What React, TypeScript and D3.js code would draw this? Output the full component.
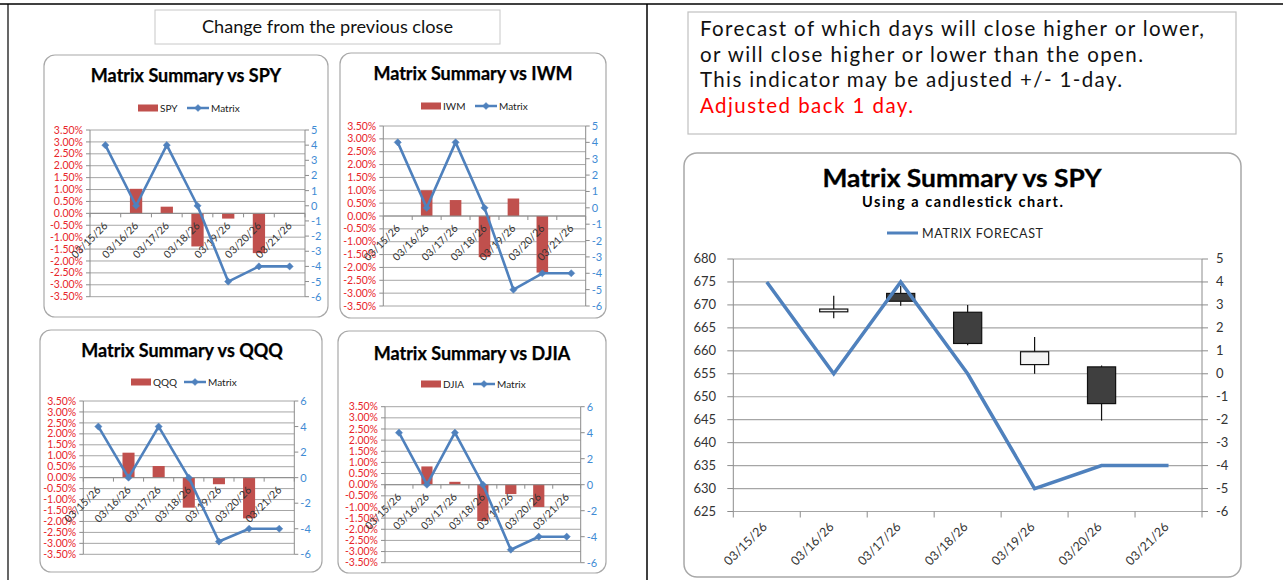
import React from "react";
import * as d3 from "d3";

// ---------- DATA ----------
const dates = ["03/15/26", "03/16/26", "03/17/26", "03/18/26", "03/19/26", "03/20/26", "03/21/26"];
const matrixForecast = [4, 0, 4, 0, -5, -4, -4];

const spyChange: (number | null)[] = [null, 1.03, 0.28, -1.39, -0.22, -1.67, null];
const iwmChange: (number | null)[] = [null, 1.0, 0.62, -1.6, 0.68, -2.2, null];
const qqqChange: (number | null)[] = [null, 1.14, 0.53, -1.37, -0.3, -1.86, null];
const djiaChange: (number | null)[] = [null, 0.82, 0.13, -1.63, -0.42, -1.0, null];

const pctTicks = [3.5, 3.0, 2.5, 2.0, 1.5, 1.0, 0.5, 0.0, -0.5, -1.0, -1.5, -2.0, -2.5, -3.0, -3.5];
const matrixTicksUnit = [5, 4, 3, 2, 1, 0, -1, -2, -3, -4, -5, -6];
const matrixTicksTwo = [6, 4, 2, 0, -2, -4, -6];

const candleOpen: (number | null)[] = [null, 668.5, 672.5, 668.4, 657.0, 656.5, null];
const candleHigh: (number | null)[] = [null, 672.0, 674.2, 670.0, 663.0, 656.8, null];
const candleLow: (number | null)[] = [null, 667.1, 669.8, 661.2, 655.0, 644.8, null];
const candleClose: (number | null)[] = [null, 669.1, 670.8, 661.6, 659.8, 648.5, null];
const priceTicks = [680, 675, 670, 665, 660, 655, 650, 645, 640, 635, 630, 625];

const noteLines = [
  "Forecast of which days will close higher or lower,",
  "or will close higher or lower than the open.",
  "This indicator may be adjusted +/- 1-day.",
];
const noteRed = "Adjusted back 1 day.";

// ---------- STYLE / LAYOUT ----------
const FONT = "Lato, 'Open Sans', sans-serif";
const BAR = "#c0504d";
const LINE = "#4f81bd";
const GRID = "#a6a6a6";
const AXIS = "#8c8c8c";
const RED_LABEL = "#e8262b";
const BLUE_LABEL = "#3f8bd4";
const noteWidths = [504, 443, 422];

type PanelCfg = {
  name: string;
  values: (number | null)[];
  frame: { x: number; y: number; w: number; h: number };
  plot: { l: number; r: number; t: number; b: number };
  titleY: number;
  titleX: number;
  legendY: number;
  swatchX: number;
  lineX: number;
  rightDomain: [number, number];
  rightTicks: number[];
};

const panels: PanelCfg[] = [
  {
    name: "SPY",
    values: spyChange,
    frame: { x: 44, y: 55, w: 284, h: 262 },
    plot: { l: 90, r: 305, t: 130, b: 296.7 },
    titleX: 186,
    titleY: 82,
    legendY: 108,
    swatchX: 138,
    lineX: 187,
    rightDomain: [-6, 5],
    rightTicks: matrixTicksUnit,
  },
  {
    name: "IWM",
    values: iwmChange,
    frame: { x: 340, y: 53, w: 266, h: 265 },
    plot: { l: 383.3, r: 585.7, t: 126, b: 306 },
    titleX: 473,
    titleY: 80,
    legendY: 106,
    swatchX: 421,
    lineX: 475,
    rightDomain: [-6, 5],
    rightTicks: matrixTicksUnit,
  },
  {
    name: "QQQ",
    values: qqqChange,
    frame: { x: 40, y: 330, w: 282, h: 242 },
    plot: { l: 83.3, r: 294.3, t: 401, b: 554.3 },
    titleX: 182,
    titleY: 357,
    legendY: 382,
    swatchX: 131,
    lineX: 184,
    rightDomain: [-6, 6],
    rightTicks: matrixTicksTwo,
  },
  {
    name: "DJIA",
    values: djiaChange,
    frame: { x: 338, y: 331, w: 268, h: 242 },
    plot: { l: 385, r: 580.7, t: 406.7, b: 562.7 },
    titleX: 472,
    titleY: 360,
    legendY: 384,
    swatchX: 421,
    lineX: 473,
    rightDomain: [-6, 6],
    rightTicks: matrixTicksTwo,
  },
];

const fmtPct = (v: number) => `${v.toFixed(2)}%`;

function Diamond({ x, y, r }: { x: number; y: number; r: number }) {
  return (
    <path
      d={`M${x},${y - r}L${x + r},${y}L${x},${y + r}L${x - r},${y}Z`}
      fill={LINE}
      stroke={LINE}
      strokeWidth={0.5}
    />
  );
}

function SmallPanel({ cfg }: { cfg: PanelCfg }) {
  const { plot, frame } = cfg;
  const x = d3.scaleBand<string>().domain(dates).range([plot.l, plot.r]).paddingInner(0).paddingOuter(0);
  const yL = d3.scaleLinear().domain([-3.5, 3.5]).range([plot.b, plot.t]);
  const yR = d3.scaleLinear().domain(cfg.rightDomain).range([plot.b, plot.t]);
  const bw = x.bandwidth() * 0.4;
  const cx = (d: string) => (x(d) as number) + x.bandwidth() / 2;
  const y0 = yL(0);
  const line = d3
    .line<number>()
    .x((_, i) => cx(dates[i]))
    .y((v) => yR(v));
  const boundaries = dates.map((d) => x(d) as number).concat([plot.r]);

  return (
    <g>
      <rect x={frame.x} y={frame.y} width={frame.w} height={frame.h} rx={11} fill="#fff" stroke="#a8a8a8" strokeWidth={1.2} />
      <text x={cfg.titleX} y={cfg.titleY} textAnchor="middle" fontFamily={FONT} fontWeight={700} fontSize={18} fill="#000" stroke="#000" strokeWidth={0.25}>
        {`Matrix Summary vs ${cfg.name}`}
      </text>
      {/* legend */}
      <rect x={cfg.swatchX} y={cfg.legendY - 3.5} width={20} height={7} fill={BAR} />
      <text x={cfg.swatchX + 22} y={cfg.legendY + 3.5} fontFamily={FONT} fontSize={10} fill="#222">
        {cfg.name}
      </text>
      <line x1={cfg.lineX} x2={cfg.lineX + 22} y1={cfg.legendY} y2={cfg.legendY} stroke={LINE} strokeWidth={2.5} />
      <Diamond x={cfg.lineX + 11} y={cfg.legendY} r={3.5} />
      <text x={cfg.lineX + 24} y={cfg.legendY + 3.5} fontFamily={FONT} fontSize={10} fill="#222">
        Matrix
      </text>
      {/* gridlines */}
      {pctTicks.map((t) => (
        <line key={t} x1={plot.l} x2={plot.r} y1={yL(t)} y2={yL(t)} stroke={GRID} strokeWidth={1} />
      ))}
      {/* left axis */}
      <line x1={plot.l} x2={plot.l} y1={plot.t} y2={plot.b} stroke={AXIS} />
      {pctTicks.map((t) => (
        <g key={t}>
          <line x1={plot.l - 4} x2={plot.l} y1={yL(t)} y2={yL(t)} stroke={AXIS} />
          <text x={plot.l - 7} y={yL(t) + 3.6} textAnchor="end" fontFamily={FONT} fontSize={10.5} fill={RED_LABEL}>
            {fmtPct(t)}
          </text>
        </g>
      ))}
      {/* right axis */}
      <line x1={plot.r} x2={plot.r} y1={plot.t} y2={plot.b} stroke={AXIS} />
      {cfg.rightTicks.map((t) => (
        <g key={t}>
          <line x1={plot.r} x2={plot.r + 4} y1={yR(t)} y2={yR(t)} stroke={AXIS} />
          <text x={plot.r + 6} y={yR(t) + 4} fontFamily={FONT} fontSize={11} fill={BLUE_LABEL}>
            {t}
          </text>
        </g>
      ))}
      {/* bars */}
      {cfg.values.map((v, i) =>
        v == null ? null : (
          <rect key={i} x={cx(dates[i]) - bw / 2} y={Math.min(yL(v), y0)} width={bw} height={Math.abs(yL(v) - y0)} fill={BAR} />
        )
      )}
      {/* category axis */}
      <line x1={plot.l} x2={plot.r} y1={y0} y2={y0} stroke={AXIS} />
      {boundaries.map((bx, i) => (
        <line key={i} x1={bx} x2={bx} y1={y0} y2={y0 + 4} stroke={AXIS} />
      ))}
      {dates.map((d) => (
        <text
          key={d}
          transform={`translate(${cx(d) + 3},${y0 + 13}) rotate(-45)`}
          textAnchor="end"
          fontFamily={FONT}
          fontSize={10.5}
          fill="#333"
        >
          {d}
        </text>
      ))}
      {/* line */}
      <path d={line(matrixForecast) as string} fill="none" stroke={LINE} strokeWidth={2.6} strokeLinejoin="round" />
      {matrixForecast.map((v, i) => (
        <Diamond key={i} x={cx(dates[i])} y={yR(v)} r={3.6} />
      ))}
    </g>
  );
}

const cPlot = { l: 733.3, r: 1202, t: 259, b: 511.5 };

function CandleChart() {
  const x = d3.scaleBand<string>().domain(dates).range([cPlot.l, cPlot.r]);
  const yL = d3.scaleLinear().domain([625, 680]).range([cPlot.b, cPlot.t]);
  const yR = d3.scaleLinear().domain([-6, 5]).range([cPlot.b, cPlot.t]);
  const cx = (d: string) => (x(d) as number) + x.bandwidth() / 2;
  const bw = x.bandwidth() * 0.42;
  const line = d3
    .line<number>()
    .x((_, i) => cx(dates[i]))
    .y((v) => yR(v));
  const boundaries = dates.map((d) => x(d) as number).concat([cPlot.r]);
  return (
    <g>
      <rect x={684} y={153} width={557} height={424} rx={13} fill="#fff" stroke="#a8a8a8" strokeWidth={1.5} />
      <text x={962} y={187} textAnchor="middle" fontFamily={FONT} fontWeight={700} fontSize={25} fill="#000" stroke="#000" strokeWidth={0.3} textLength={279} lengthAdjust="spacingAndGlyphs">
        Matrix Summary vs SPY
      </text>
      <text x={962.5} y={207} textAnchor="middle" fontFamily={FONT} fontWeight={700} fontSize={14.5} fill="#000" textLength={201} lengthAdjust="spacing">
        Using a candlestick chart.
      </text>
      <line x1={887} x2={918} y1={233} y2={233} stroke={LINE} strokeWidth={3} />
      <text x={922} y={237.5} fontFamily={FONT} fontSize={12.5} fill="#222" textLength={121} lengthAdjust="spacing">
        MATRIX FORECAST
      </text>
      {priceTicks.map((t) => (
        <line key={t} x1={cPlot.l} x2={cPlot.r} y1={yL(t)} y2={yL(t)} stroke={GRID} strokeWidth={1.2} />
      ))}
      <line x1={cPlot.l} x2={cPlot.l} y1={cPlot.t} y2={cPlot.b} stroke={AXIS} />
      <line x1={cPlot.r} x2={cPlot.r} y1={cPlot.t} y2={cPlot.b} stroke={AXIS} />
      {priceTicks.map((t) => (
        <g key={t}>
          <line x1={cPlot.l - 6} x2={cPlot.l} y1={yL(t)} y2={yL(t)} stroke={AXIS} />
          <text x={716} y={yL(t) + 4.4} textAnchor="end" fontFamily={FONT} fontSize={13} fill="#333">
            {t}
          </text>
        </g>
      ))}
      {matrixTicksUnit.map((t) => (
        <g key={t}>
          <line x1={cPlot.r} x2={cPlot.r + 6} y1={yR(t)} y2={yR(t)} stroke={AXIS} />
          <text x={1216} y={yR(t) + 4.4} fontFamily={FONT} fontSize={13} fill="#333">
            {t}
          </text>
        </g>
      ))}
      {boundaries.map((bx, i) => (
        <line key={i} x1={bx} x2={bx} y1={cPlot.b} y2={cPlot.b + 6} stroke={AXIS} />
      ))}
      {dates.map((d) => (
        <text
          key={d}
          transform={`translate(${cx(d) + 1},${cPlot.b + 16}) rotate(-45)`}
          textAnchor="end"
          fontFamily={FONT}
          fontSize={12.5}
          fill="#333"
        >
          {d}
        </text>
      ))}
      {/* candles */}
      {dates.map((d, i) => {
        const o = candleOpen[i];
        const c = candleClose[i];
        const h = candleHigh[i];
        const lo = candleLow[i];
        if (o == null || c == null || h == null || lo == null) return null;
        const up = c >= o;
        return (
          <g key={d}>
            <line x1={cx(d)} x2={cx(d)} y1={yL(h)} y2={yL(lo)} stroke="#111" strokeWidth={1.2} />
            <rect
              x={cx(d) - bw / 2}
              y={yL(Math.max(o, c))}
              width={bw}
              height={Math.abs(yL(o) - yL(c))}
              fill={up ? "#f4f4f4" : "#3f3f3f"}
              stroke="#111"
              strokeWidth={1.2}
            />
          </g>
        );
      })}
      <path d={line(matrixForecast) as string} fill="none" stroke={LINE} strokeWidth={3.5} strokeLinejoin="miter" />
    </g>
  );
}

export default function App() {
  return (
    <svg
      width={1283}
      height={580}
      style={{ position: "absolute", left: 0, top: 0, background: "#fff" }}
      xmlns="http://www.w3.org/2000/svg"
    >
      <rect x={0} y={0} width={1283} height={580} fill="#fff" />
      {/* table borders */}
      <line x1={0} x2={1283} y1={4} y2={4} stroke="#000" strokeWidth={1.5} />
      <line x1={8} x2={8} y1={4} y2={580} stroke="#000" strokeWidth={1.2} />
      <line x1={647} x2={647} y1={4} y2={580} stroke="#000" strokeWidth={1.5} />

      {/* left header box */}
      <rect x={155} y={10} width={345} height={34} fill="#fff" stroke="#c8c8c8" strokeWidth={1} />
      <text x={327.5} y={33} textAnchor="middle" fontFamily={FONT} fontSize={17} fill="#111" textLength={251} lengthAdjust="spacingAndGlyphs">
        Change from the previous close
      </text>

      {panels.map((p) => (
        <SmallPanel key={p.name} cfg={p} />
      ))}

      {/* right note box */}
      <rect x={688} y={12} width={548} height={122} fill="#fff" stroke="#c0c0c0" strokeWidth={1.2} />
      {noteLines.map((t, i) => (
        <text
          key={i}
          x={700}
          y={36 + i * 25.5}
          fontFamily={FONT}
          fontSize={20.5}
          fill="#111"
          textLength={noteWidths[i]}
          lengthAdjust="spacing"
        >
          {t}
        </text>
      ))}
      <text x={700} y={112.5} fontFamily={FONT} fontSize={20.5} fill="#ff0000" textLength={213} lengthAdjust="spacing">
        {noteRed}
      </text>

      <CandleChart />
    </svg>
  );
}
